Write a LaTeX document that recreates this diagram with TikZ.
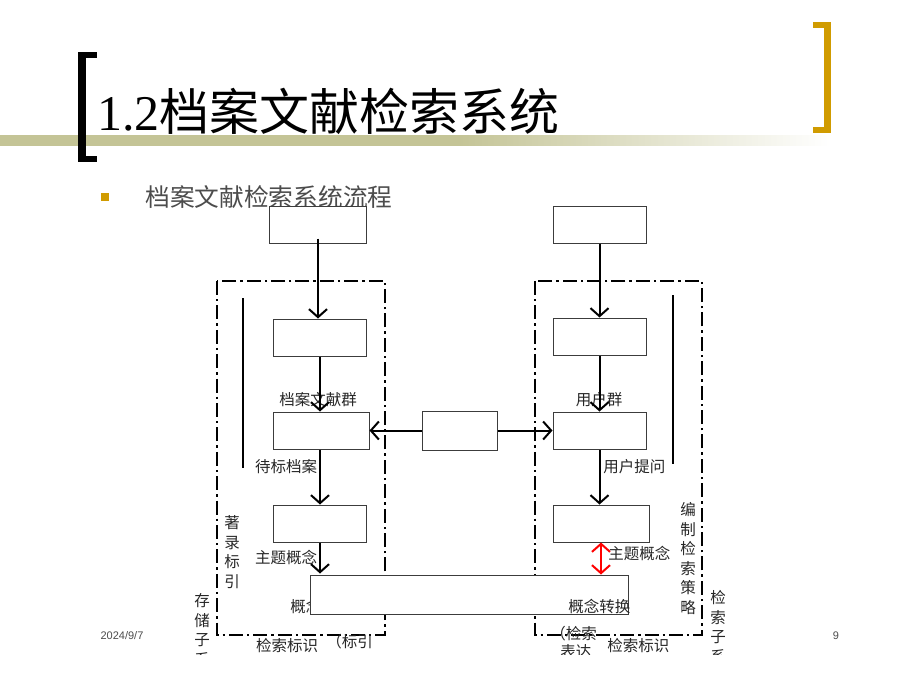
\documentclass[tikz,border=0pt]{standalone}
\usepackage{fontspec}
\setmainfont{Liberation Sans}
\newfontfamily\cjk{Noto Sans CJK SC}
\newfontfamily\serfont{Liberation Serif}
\usetikzlibrary{arrows.meta}
\definecolor{gold}{RGB}{208,155,0}
\definecolor{olive}{RGB}{196,196,150}
\definecolor{boxline}{RGB}{60,60,60}
\tikzset{
  fbox/.style={draw=boxline, line width=0.5pt, fill=white, minimum height=18.5pt, inner sep=0pt},
  flow/.style={line width=1pt, -{Straight Barb[length=4pt,width=9pt,line width=1pt]}},
  redflow/.style={line width=1pt, red, {Straight Barb[length=4pt,width=9pt,line width=1pt]}-{Straight Barb[length=4pt,width=9pt,line width=1pt]}},
  frame/.style={line width=0.9pt, dash pattern=on 7pt off 2pt on 1.2pt off 2pt},
  lbl/.style={font=\cjk\fontsize{7.75}{10}\selectfont, inner sep=0pt, text=black!85},
  vlbl/.style={lbl, align=center, font=\cjk\fontsize{7.75}{9.8}\selectfont},
}
\begin{document}
\begin{tikzpicture}[x=0.5pt,y=-0.5pt]
\useasboundingbox (0,0) rectangle (900,675);
% header
\shade[left color=olive, right color=olive] (0,135) rectangle (460,145);
\shade[left color=olive, right color=white] (459,135) rectangle (830,145);
\fill[black] (78,52) rectangle (86,162);
\fill[black] (78,52) rectangle (97,58);
\fill[black] (78,156) rectangle (97,162);
\fill[gold] (824,22) rectangle (831,133);
\fill[gold] (813,22) rectangle (831,28);
\fill[gold] (813,127) rectangle (831,133);
\node[anchor=west, inner sep=0pt] (title) at (97,111) {\serfont\fontsize{25}{30}\selectfont 1.2\cjk 档案文献检索系统};
\fill[gold] (101,193) rectangle (109,201);
\node[anchor=west, inner sep=0pt, text=black!70] (sub) at (145,197) {\cjk\fontsize{12.35}{15}\selectfont 档案文献检索系统流程};
% footer
\node[inner sep=0pt, text=black!70, font=\fontsize{5.5}{7}\selectfont] (date) at (122,636) {2024/9/7};
\node[inner sep=0pt, text=black!70, font=\fontsize{5.5}{7}\selectfont] (page) at (836,636) {9};
% frames
\draw[frame] (217,281) rectangle (385,635);
\draw[frame] (535,281) rectangle (702,635);
\draw[line width=1pt] (243,298) -- (243,468);
\draw[line width=1pt] (673,295) -- (673,464);
% labels under boxes
\node[lbl] (lab1) at (318,400) {档案文献群};
\node[lbl] (lab2) at (286,467) {待标档案};
\node[lbl] (lab3) at (286,557) {主题概念};
\node[lbl, anchor=west] (lab4) at (290,606) {概念};
\node[lbl] (lab5) at (599,400) {用户群};
\node[lbl, anchor=west] (lab6) at (603,467) {用户提问};
\node[lbl, anchor=west] (lab7) at (608,553) {主题概念};
% boxes
\node[fbox, minimum width=48.5pt] (tl) at (317.5,224.5) {};
\node[fbox, minimum width=46.5pt] (tr) at (599.5,224.5) {};
\node[fbox, minimum width=46.5pt] (l2) at (319.5,337.5) {};
\node[fbox, minimum width=48pt] (l3) at (321,430.5) {};
\node[fbox, minimum width=46.5pt] (l4) at (319.5,523.5) {};
\node[fbox, minimum width=46.5pt] (r2) at (599.5,336.5) {};
\node[fbox, minimum width=46.5pt] (r3) at (599.5,430.5) {};
\node[fbox, minimum width=48pt] (r4) at (601,523.5) {};
\node[fbox, minimum width=37.5pt, minimum height=19.5pt] (mid) at (459.5,430.5) {};
\node[fbox, minimum width=159pt, minimum height=19.5pt] (wide) at (469,594.5) {};
\node[lbl, anchor=west] (lab8) at (568,606) {概念转换};
% connectors
\coordinate (a1) at ([yshift=2.5pt]tl.south -| 318,0);
\draw[flow] (a1) -- (a1 |- l2.north);
\draw[flow] (l2.south -| 320,0) -- (l3.north -| 320,0);
\draw[flow] (l3.south -| 320,0) -- (l4.north -| 320,0);
\draw[flow] (l4.south -| 320,0) -- ([yshift=0.5pt]wide.north -| 320,0);
\draw[flow] (tr.south) -- (r2.north);
\draw[flow] (r2.south) -- (r3.north);
\draw[flow] (r3.south) -- (r3.south |- r4.north);
\draw[redflow] (r4.south) -- (wide.north -| r4.south);
\draw[flow] (mid.west) -- (l3.east);
\draw[flow] (mid.east) -- (r3.west);
% side and bottom labels
\node[vlbl] (v1) at (232,552) {著\\录\\标\\引};
\node[vlbl] (v2) at (202,630) {存\\储\\子\\系};
\node[vlbl] (v3) at (688,558.5) {编\\制\\检\\索\\策\\略};
\node[vlbl] (v4) at (718,627) {检\\索\\子\\系};
\node[lbl] (b1) at (287,646) {检索标识};
\node[lbl, anchor=west] (b2) at (326,642) {（标引};
\node[lbl, anchor=west] (b3) at (550,634) {（检索};
\node[lbl, anchor=west] (b4) at (560,652) {表达};
\node[lbl, anchor=west] (b5) at (607,646) {检索标识};
% cut-off at the bottom
\fill[white] (160,655) rectangle (780,675);
\end{tikzpicture}
\end{document}
